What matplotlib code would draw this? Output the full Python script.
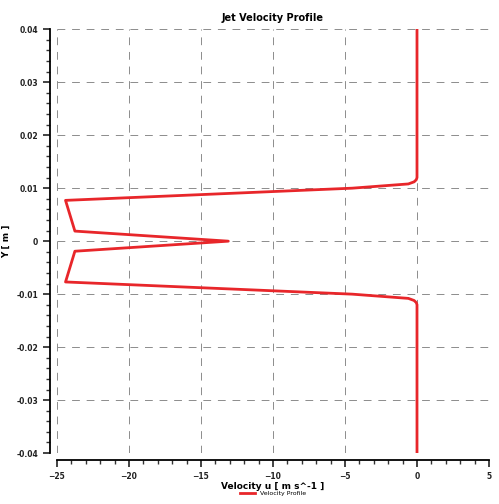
import matplotlib
matplotlib.use("Agg")
import matplotlib.pyplot as plt
from matplotlib.ticker import MultipleLocator

# upper half of the jet profile (y >= 0), mirrored below
y_half = [0.04, 0.0120, 0.0116, 0.0112, 0.0108, 0.0100, 0.0077, 0.0019, 0.0]
u_half = [0.0, 0.0, -0.05, -0.2, -0.6, -4.5, -24.4, -23.75, -13.1]

y_vals = y_half + [-v for v in y_half[::-1][1:]]
u_vals = u_half + u_half[::-1][1:]

x_ticks = [-25, -20, -15, -10, -5, 0, 5]
y_ticks = [-0.04, -0.03, -0.02, -0.01, 0, 0.01, 0.02, 0.03, 0.04]
y_labels = ["-0.04", "-0.03", "-0.02", "-0.01", "0", "0.01", "0.02", "0.03", "0.04"]

fig = plt.figure(figsize=(4.99, 5.04), dpi=100)
ax = fig.add_axes([0.114, 0.101, 0.866, 0.841])

ax.plot(u_vals, y_vals, color="#e8262a", lw=2.0, label="Velocity Profile")

ax.set_xlim(-25, 5)
ax.set_ylim(-0.04, 0.04)
ax.set_xticks(x_ticks)
ax.set_yticks(y_ticks)
ax.set_yticklabels(y_labels)
ax.xaxis.set_minor_locator(MultipleLocator(1))
ax.yaxis.set_minor_locator(MultipleLocator(0.002))

ax.grid(True, which="major", color="#8c8c8c", ls=(0, (8, 7)), lw=0.7)
for s in ("top", "right"):
    ax.spines[s].set_visible(False)
for s in ("left", "bottom"):
    ax.spines[s].set_position(("outward", 5))
    ax.spines[s].set_linewidth(1.3)

ax.tick_params(which="major", direction="out", length=5, width=1.2, labelsize=5.5, colors="#222222")
ax.tick_params(which="minor", direction="out", length=3, width=1.0, colors="#333333")
for lab in ax.get_xticklabels() + ax.get_yticklabels():
    lab.set_fontweight("bold")

ax.set_title("Jet Velocity Profile", fontsize=7, fontweight="bold", pad=6)
ax.set_xlabel("Velocity u [ m s^-1 ]", fontsize=6.5, fontweight="bold", labelpad=1)
ax.set_ylabel("Y [ m ]", fontsize=6.5, fontweight="bold", labelpad=4)

ax.legend(loc="upper center", bbox_to_anchor=(0.5, -0.075), frameon=False,
          fontsize=4.5, handlelength=2.5, handletextpad=0.8)

fig.savefig("out.png", dpi=100)
